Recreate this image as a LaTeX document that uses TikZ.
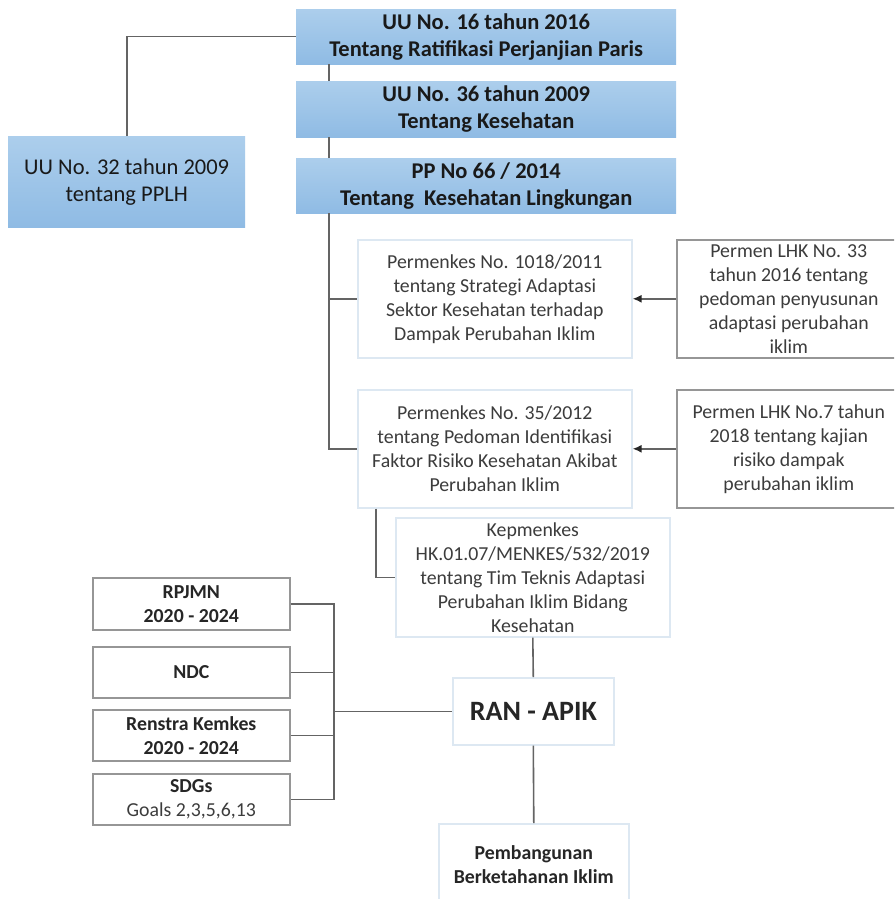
\documentclass[tikz,border=0pt]{standalone}
\usepackage{fontspec}
\setmainfont{Carlito}
\usetikzlibrary{arrows.meta}
\definecolor{garis}{RGB}{100,100,100}
\definecolor{birumuda}{RGB}{172,206,236}
\definecolor{birutua}{RGB}{143,187,228}
\definecolor{bingkaimuda}{RGB}{221,232,242}
\definecolor{bingkai}{RGB}{150,150,150}
\definecolor{teks}{RGB}{60,60,60}
\newcommand\hurufbesar{\fontsize{22.5}{27}\selectfont}
\newcommand\hurufsedang{\fontsize{19.8}{24}\selectfont}
\newcommand\hurufjudul{\fontsize{28}{30}\selectfont}

\begin{document}
\begin{tikzpicture}[x=1pt, y=-1pt,
    garis/.style={draw=garis, line width=1.6pt},
    biru/.style={top color=birumuda, bottom color=birutua, draw=none, anchor=north west,
        inner sep=0pt, align=center, text=black!90, font=\hurufbesar},
    putih/.style={draw=bingkaimuda, line width=1.6pt, fill=white, anchor=north west,
        inner sep=0pt, align=center, text=teks, font=\hurufsedang},
    kotak/.style={draw=bingkai, line width=1.6pt, fill=white, anchor=north west,
        inner sep=0pt, align=center, text=teks, font=\hurufsedang}]

    \clip (0,0) rectangle (894,899);
    \fill[white] (0,0) rectangle (894,899);

    % undang-undang di atas
    \node[biru, font=\hurufbesar\bfseries, minimum width=380, minimum height=55] (uu16) at (296,9)
        {UU No. 16 tahun 2016\\Tentang Ratifikasi Perjanjian Paris};
    \node[biru, font=\hurufbesar\bfseries, minimum width=380, minimum height=56] (uu36) at (296,81)
        {UU No. 36 tahun 2009\\Tentang Kesehatan};
    \node[biru, font=\hurufbesar\bfseries, minimum width=380, minimum height=55] (pp66) at (296,158)
        {PP No 66 / 2014\\Tentang\ \ Kesehatan Lingkungan};
    \node[biru, minimum width=237, minimum height=91] (uu32) at (8,136)
        {UU No. 32 tahun 2009\\tentang PPLH};

    % peraturan menteri
    \node[putih, minimum width=274, minimum height=118] (pmk1018) at (357,239)
        {Permenkes No. 1018/2011\\tentang Strategi Adaptasi\\Sektor Kesehatan terhadap\\Dampak Perubahan Iklim};
    \node[putih, minimum width=274, minimum height=118] (pmk35) at (357,389)
        {Permenkes No. 35/2012\\tentang Pedoman Identifikasi\\Faktor Risiko Kesehatan Akibat\\Perubahan Iklim};
    \node[kotak, minimum width=224, minimum height=118] (lhk33) at (676,239)
        {Permen LHK No. 33\\tahun 2016 tentang\\pedoman penyusunan\\adaptasi perubahan\\iklim};
    \node[kotak, minimum width=224, minimum height=118] (lhk7) at (676,389)
        {Permen LHK No.7 tahun\\2018 tentang kajian\\risiko dampak\\perubahan iklim};
    \node[putih, minimum width=274, minimum height=119] (kmk) at (395,517)
        {Kepmenkes\\HK.01.07/MENKES/532/2019\\tentang Tim Teknis Adaptasi\\Perubahan Iklim Bidang\\Kesehatan};

    % RAN - APIK
    \node[putih, font=\hurufjudul\bfseries, text=black!85, minimum width=161, minimum height=67] (ranapik) at (452,677)
        {RAN - APIK};
    \node[putih, font=\hurufsedang\bfseries, text=black!85, minimum width=190, minimum height=82] (pbg) at (438,823)
        {Pembangunan\\Berketahanan Iklim};

    % dokumen perencanaan
    \node[kotak, font=\hurufsedang\bfseries, text=black!85, minimum width=197, minimum height=52] (rpjmn) at (92,577)
        {RPJMN\\2020 - 2024};
    \node[kotak, font=\hurufsedang\bfseries, text=black!85, minimum width=197, minimum height=51] (ndc) at (92,646)
        {NDC};
    \node[kotak, font=\hurufsedang\bfseries, text=black!85, minimum width=197, minimum height=51] (renstra) at (92,709)
        {Renstra Kemkes\\2020 - 2024};
    \node[kotak, minimum width=197, minimum height=51] (sdgs) at (92,773)
        {\textbf{\color{black!85}SDGs}\\Goals 2,3,5,6,13};

    % garis penghubung
    \coordinate (tulang) at (329,0);
    \coordinate (bus) at (334,0);
    \draw[garis] (uu32.north) |- (uu16.west);
    \draw[garis] (uu16.south -| tulang) -- (uu36.north -| tulang);
    \draw[garis] (uu36.south -| tulang) -- (pp66.north -| tulang);
    \draw[garis] (pp66.south -| tulang) |- (pmk35.west);
    \draw[garis] (tulang |- pmk1018.west) -- (pmk1018.west);
    \draw[garis] ([xshift=19pt]pmk35.south west) |- (kmk.west);
    \draw[garis, -{Latex[length=9pt,width=8pt,color=black!85]}] (lhk33.west) -- (pmk1018.east);
    \draw[garis, -{Latex[length=9pt,width=8pt,color=black!85]}] (lhk7.west) -- (pmk35.east);
    \draw[garis] (kmk.south) -- (ranapik.north);
    \draw[garis] (ranapik.south) -- (pbg.north);

    \draw[garis] (rpjmn.east) -| (bus |- sdgs.east) -- (sdgs.east);
    \draw[garis] (ndc.east) -- (ndc.east -| bus);
    \draw[garis] (renstra.east) -- (renstra.east -| bus);
    \draw[garis] (bus |- ranapik.west) -- (ranapik.west);

\end{tikzpicture}
\end{document}
